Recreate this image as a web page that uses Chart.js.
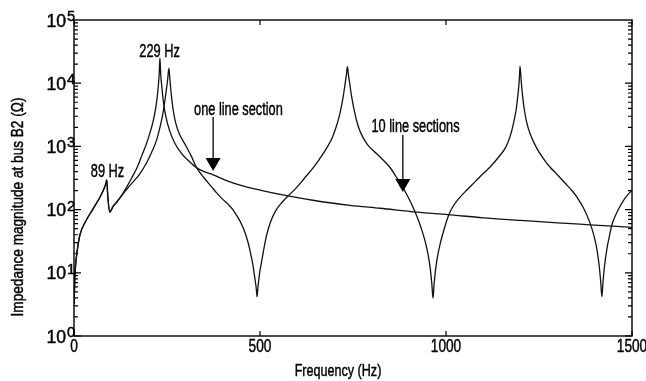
<!DOCTYPE html>
<html>
<head>
<meta charset="utf-8">
<script src="https://cdn.jsdelivr.net/npm/chart.js@4.4.1/dist/chart.umd.min.js"></script>
<style>
  html, body { margin: 0; padding: 0; background: #fff; }
  canvas { display: block; }
</style>
</head>
<body>
<canvas id="chart" width="646" height="381"></canvas>
<script>
// values (frequency in Hz, impedance in ohms)
const oneFreq = [0.5, 2, 4, 8, 16, 30, 50, 70, 80, 86, 88, 91, 96, 105, 115, 125,
    140, 155, 169, 182, 194, 204, 212, 218, 223, 227, 229, 231, 233, 236, 240, 247,
    257, 271, 290, 310, 330, 350, 374, 410, 446, 500, 572, 650, 742, 823, 922,
    1005, 1100, 1200, 1300, 1387, 1500];
const oneZ = [3.2, 7.9, 12.6, 21, 40, 63, 100, 158, 209, 263, 295, 158, 91, 112, 132, 158,
    219, 316, 457, 708, 1072, 1622, 2399, 3548, 5623, 9550, 14130, 25120, 14130, 8913, 5248, 2951,
    1778, 1122, 759, 575, 457, 398, 355, 288, 245, 204, 166, 138, 117, 105, 91.2,
    83.2, 74.1, 67.6, 61.7, 57.5, 52.5];

const tenFreq = [0.5, 2, 4, 8, 16, 30, 50, 70, 80, 86, 88, 91, 96, 105, 115, 125,
    150, 175, 196, 212, 222, 231, 239, 245, 249, 252, 255, 258, 261, 266, 273, 283,
    298, 315, 330, 350, 370, 384, 400, 415, 427, 440, 452, 460, 468, 475, 481, 486,
    490, 492, 495, 499, 505, 511, 518, 528, 542, 560, 580, 600, 620, 640, 660, 680,
    695, 707, 716, 724, 729, 732, 735, 738, 741, 746, 754, 764, 776, 790, 805, 825,
    849, 866, 884, 898, 911, 924, 936, 946, 953, 958, 962, 965, 968, 972, 977, 984,
    992, 1005, 1016, 1035, 1056, 1080, 1100, 1118, 1140, 1160, 1172, 1182, 1189, 1194, 1197, 1199,
    1202, 1205, 1210, 1217, 1226, 1245, 1265, 1280, 1298, 1320, 1340, 1352, 1370, 1387, 1398, 1406,
    1412, 1416, 1419, 1422, 1426, 1432, 1440, 1446, 1455, 1465, 1480, 1500];
const tenZ = [3.2, 7.9, 12.6, 21, 40, 63, 100, 158, 209, 263, 295, 158, 91, 112, 132, 158,
    240, 355, 562, 891, 1259, 1995, 3311, 5623, 8511, 11750, 17380, 11220, 7079, 3981, 2399, 1585,
    1096, 708, 457, 316, 229, 182, 145, 120, 100, 75.9, 56.2, 42.7, 30.2, 20, 13.2, 8.32,
    5.62, 4.17, 6.31, 10, 15.8, 25.1, 39.8, 63.1, 95.5, 132, 174, 229, 316, 437, 631, 955,
    1413, 2239, 3548, 6310, 10000, 13180, 18200, 13180, 10000, 6310, 3548, 2089, 1413, 1047, 851, 661,
    468, 331, 224, 158, 110, 72.4, 45.7, 28.2, 17.8, 11.2, 6.61, 3.98, 6.61, 11.2, 17.8, 28.2,
    42.7, 75.9, 105, 151, 204, 282, 372, 468, 661, 955, 1413, 2399, 3981, 7079, 11220, 18620,
    11220, 7079, 3981, 2399, 1585, 912, 603, 468, 363, 263, 195, 158, 105, 61.7, 38, 22.9,
    12.6, 7.08, 4.17, 7.08, 12.6, 22.9, 39.8, 57.5, 79.4, 105, 148, 204];

const xTicks = [0, 500, 1000, 1500];
const yExponents = [0, 1, 2, 3, 4, 5];

const FONT = '"Liberation Sans", Arial, sans-serif';
const INK = '#111';

// label text placed in data space (Hz, ohms)
const notes = [
    { text: '229 Hz', f: 230, z: 26000 },
    { text: '89 Hz', f: 90, z: 328 },
    { text: 'one line section', f: 442, z: 3140 },
    { text: '10 line sections', f: 918, z: 1690 }
];
const arrows = [
    { f: 374, from: 2920, to: 407 },
    { f: 884, from: 1515, to: 190 }
];

const toPoints = (fs, zs) => fs.map((f, i) => ({ x: f, y: zs[i] }));

// narrow text: the original uses a condensed face, so squeeze it sideways
function drawText(ctx, text, x, y, size, align, sx) {
    ctx.save();
    ctx.translate(x, y);
    ctx.scale(sx, 1);
    ctx.font = size + 'px ' + FONT;
    ctx.textAlign = align;
    ctx.textBaseline = 'alphabetic';
    ctx.lineWidth = 0.45;
    ctx.strokeStyle = '#000';
    ctx.fillText(text, 0, 0);
    ctx.strokeText(text, 0, 0);
    ctx.restore();
}

const framePlugin = {
    id: 'frame',
    afterDraw(chart) {
        const { ctx, chartArea: a, scales: { x, y } } = chart;
        ctx.save();
        ctx.strokeStyle = '#000';
        ctx.fillStyle = '#000';

        // box
        ctx.lineWidth = 1.4;
        ctx.strokeRect(a.left, a.top, a.right - a.left, a.bottom - a.top);

        // inward ticks
        ctx.lineWidth = 1.2;
        ctx.beginPath();
        for (let k = 0; k < 5; k++) {
            for (let m = 1; m < 10; m++) {
                const py = y.getPixelForValue(m * Math.pow(10, k));
                const len = m === 1 ? 7 : 4;
                ctx.moveTo(a.left, py); ctx.lineTo(a.left + len, py);
                ctx.moveTo(a.right, py); ctx.lineTo(a.right - len, py);
            }
        }
        xTicks.forEach(v => {
            const px = x.getPixelForValue(v);
            ctx.moveTo(px, a.bottom); ctx.lineTo(px, a.bottom - 5);
            ctx.moveTo(px, a.top); ctx.lineTo(px, a.top + 5);
        });
        ctx.stroke();

        // tick labels
        xTicks.forEach(v => {
            drawText(ctx, String(v), x.getPixelForValue(v), a.bottom + 16, 18, 'center', 0.76);
        });
        yExponents.forEach(k => {
            const py = y.getPixelForValue(Math.pow(10, k));
            drawText(ctx, '10', 66, py + 6.5, 18, 'right', 0.98);
            drawText(ctx, String(k), 67, py + 1, 15, 'left', 0.98);
        });

        // axis titles
        drawText(ctx, 'Frequency (Hz)', 338, 376, 17, 'center', 0.74);
        ctx.save();
        ctx.translate(23, 207);
        ctx.rotate(-Math.PI / 2);
        drawText(ctx, 'Impedance magnitude at bus B2 (\u03A9)', 0, 0, 17, 'center', 0.8);
        ctx.restore();

        // annotations
        notes.forEach(n => {
            drawText(ctx, n.text, x.getPixelForValue(n.f), y.getPixelForValue(n.z), 18, 'center', 0.71);
        });
        ctx.lineWidth = 1.3;
        arrows.forEach(ar => {
            const px = x.getPixelForValue(ar.f);
            const y0 = y.getPixelForValue(ar.from);
            const tip = y.getPixelForValue(ar.to);
            ctx.beginPath();
            ctx.moveTo(px, y0);
            ctx.lineTo(px, tip - 12);
            ctx.stroke();
            ctx.beginPath();
            ctx.moveTo(px - 7.5, tip - 13);
            ctx.lineTo(px + 7.5, tip - 13);
            ctx.lineTo(px, tip);
            ctx.closePath();
            ctx.fill();
        });
        ctx.restore();
    }
};

const lineStyle = {
    borderColor: INK,
    borderWidth: 1.3,
    pointRadius: 0,
    fill: false,
    cubicInterpolationMode: 'monotone'
};

new Chart(document.getElementById('chart').getContext('2d'), {
    type: 'line',
    data: {
        datasets: [
            Object.assign({ label: 'one line section', data: toPoints(oneFreq, oneZ) }, lineStyle),
            Object.assign({ label: '10 line sections', data: toPoints(tenFreq, tenZ) }, lineStyle)
        ]
    },
    options: {
        responsive: false,
        animation: false,
        events: [],
        layout: { padding: { top: 20, right: 14, left: 0, bottom: 0 } },
        plugins: { legend: { display: false }, tooltip: { enabled: false } },
        scales: {
            x: {
                type: 'linear',
                min: 0,
                max: 1500,
                afterFit: s => { s.height = 45; },
                grid: { display: false },
                border: { display: false },
                ticks: { display: false }
            },
            y: {
                type: 'logarithmic',
                min: 1,
                max: 100000,
                afterFit: s => { s.width = 74; },
                grid: { display: false },
                border: { display: false },
                ticks: { display: false }
            }
        }
    },
    plugins: [framePlugin]
});
</script>
</body>
</html>
